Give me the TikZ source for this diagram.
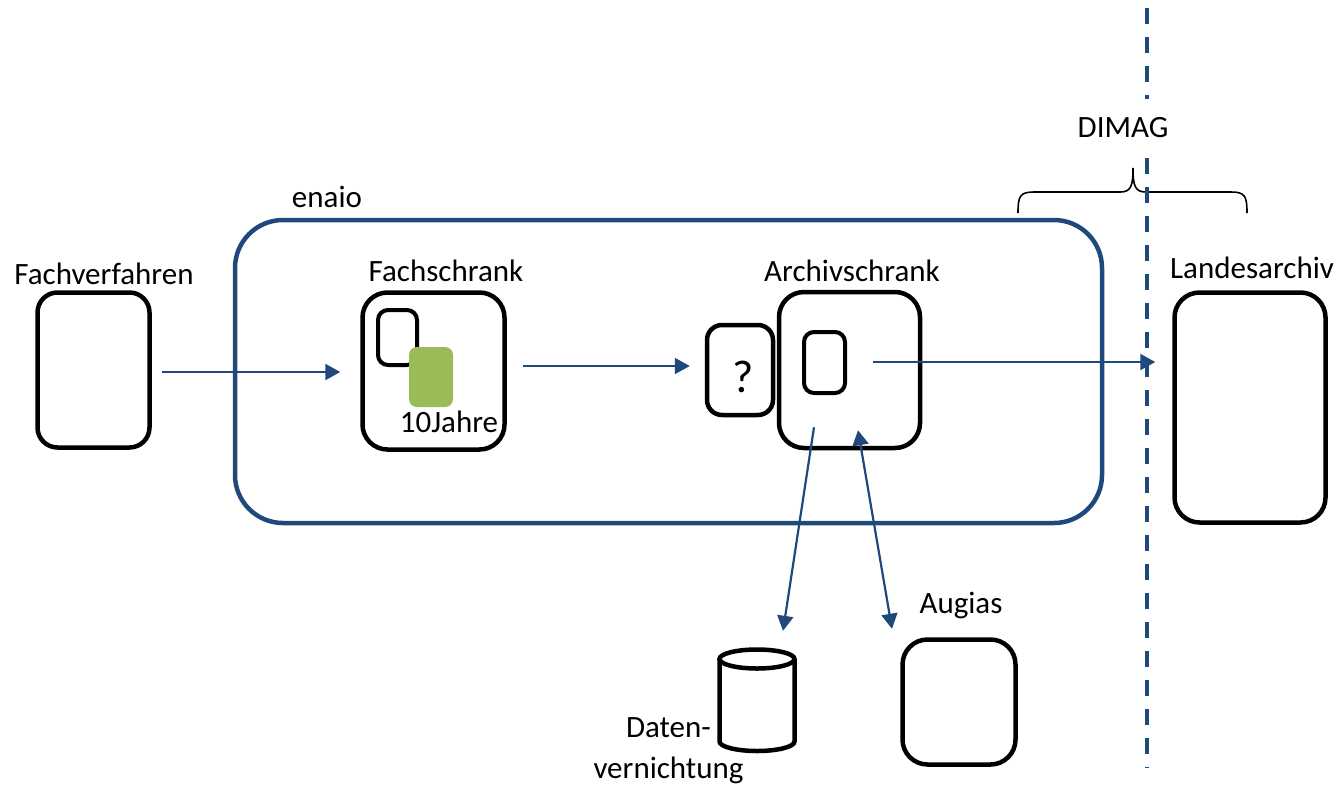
\documentclass[tikz,border=0pt]{standalone}
\usepackage{fontspec}
\setmainfont{Carlito}
\usetikzlibrary{arrows.meta,calc}
\definecolor{dblue}{HTML}{1F497D}
\definecolor{lgreen}{HTML}{9BBB59}
\begin{document}
\begin{tikzpicture}[x=1pt,y=-1pt,
  box/.style={draw=black, line width=4.5pt, rounded corners=#1, inner sep=0pt, fill=white},
  box/.default=20pt,
  lbl/.style={font=\fontsize{31}{41}\selectfont, inner sep=0pt, anchor=base},
  arr/.style={draw=dblue, line width=2.2pt, -{Triangle[length=15pt,width=16pt]}},
  darr/.style={draw=dblue, line width=2.2pt, {Triangle[length=15pt,width=16pt]}-{Triangle[length=15pt,width=16pt]}}
]
\useasboundingbox (0,0) rectangle (1343,785);
% enaio container
\node[draw=dblue, line width=4.5pt, rounded corners=48pt, minimum width=867pt, minimum height=303pt, inner sep=0pt] (en) at (668.5,371.5) {};
\node[lbl] (enl) at (327,207) {enaio};
% Fachverfahren
\node[box, minimum width=112pt, minimum height=155pt] (fv) at (93.5,370) {};
\node[lbl] (fvl) at (104,284) {Fachverfahren};
% Fachschrank
\node[box=25pt, minimum width=142pt, minimum height=157pt] (fs) at (433.5,371) {};
\node[lbl] (fsl) at (446,281) {Fachschrank};
\node[box=10pt, line width=4pt, minimum width=39pt, minimum height=55pt, fill=none] (fsi) at (397.5,337.5) {};
\node[fill=lgreen, rounded corners=8pt, minimum width=44pt, minimum height=60pt, inner sep=0pt] (gr) at (431,377) {};
\node[lbl] (jl) at (449,432) {10Jahre};
% ? box
\node[box=15pt, minimum width=66pt, minimum height=90pt] (q) at (740,370) {};
\node[font=\fontsize{46}{50}\selectfont, inner sep=0pt, anchor=base] (ql) at (743,392) {?};
% Archivschrank
\node[box=25pt, minimum width=141pt, minimum height=156pt] (as) at (849.5,370) {};
\node[lbl] (asl) at (852,281) {Archivschrank};
\node[box=10pt, line width=4pt, minimum width=41pt, minimum height=61pt] (asi) at (824.5,362.5) {};
% Landesarchiv
\node[box=25pt, minimum width=151pt, minimum height=230pt] (la) at (1250,407.5) {};
\node[lbl, anchor=base west] (lal) at (1170,278) {Landesarchiv};
% Augias
\node[box=25pt, minimum width=113pt, minimum height=125pt] (au) at (959,702) {};
\node[lbl] (aul) at (961,613) {Augias};
% Datenvernichtung cylinder
\node[minimum width=75pt, minimum height=101pt, inner sep=0pt] (db) at (757,700.5) {};
\draw[line width=4.5pt] (719.5,659) -- (719.5,741.5) arc[start angle=180, end angle=0, x radius=37.5, y radius=9.5] -- (794.5,659);
\draw[line width=4.5pt] (757,659) ellipse [x radius=37.5, y radius=9.5];
\node[lbl, align=center, anchor=base] (dbl) at (668.5,778) {Daten-\\vernichtung};
% DIMAG
\node[lbl] (dml) at (1123,137) {DIMAG};
\draw[line width=1.6pt] (1018,213) .. controls (1018,196) and (1020,192) .. (1034,192) -- (1120,192) .. controls (1131,192) and (1133,186) .. (1133,168) .. controls (1133,186) and (1135,192) .. (1146,192) -- (1231,192) .. controls (1245,192) and (1247,196) .. (1247,213);
\draw[dblue, line width=4pt, dash pattern=on 16pt off 13pt] (1147,8) -- (1147,99);
\draw[dblue, line width=4pt, dash pattern=on 16pt off 13pt] (1147,158) -- (1147,768);
% connectors
\draw[arr] ($(fv.east)+(10,2)$) -- ($(fs.west)+(-20,1)$);
\draw[arr] ($(fs.east)+(16,-5)$) -- ($(q.west)+(-15,-4)$);
\draw[arr] ($(as.center)+(23.5,-8)$) -- ($(la.west)+(-17,-45.5)$);
\draw[arr] ($(as.south)+(-35.5,-23)$) -- ($(db.north)+(26,-19)$);
\draw[darr] ($(as.south)+(8.5,-20)$) -- ($(au.north)+(-67,-8.5)$);
\end{tikzpicture}
\end{document}
